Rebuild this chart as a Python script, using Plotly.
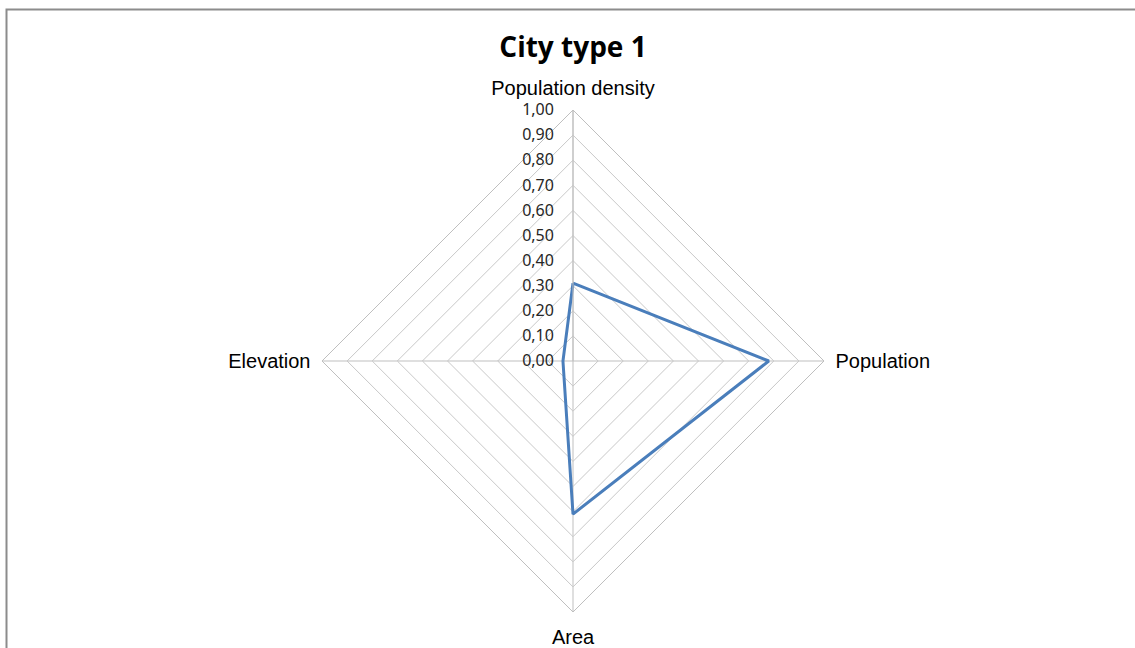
import plotly.graph_objects as go

categories = ["Population density", "Population", "Area", "Elevation"]
values = [0.31, 0.78, 0.61, 0.04]
tick_values = [0, 0.1, 0.2, 0.3, 0.4, 0.5, 0.6, 0.7, 0.8, 0.9, 1.0]

W, H = 1135, 648
cx, cy, R = 573, 361, 251

fig = go.Figure()
fig.add_trace(go.Scatterpolar(
    r=values + values[:1],
    theta=categories + categories[:1],
    mode="lines",
    line=dict(color="#4a7ebb", width=3),
    showlegend=False,
))

fig.update_layout(
    width=W, height=H,
    margin=dict(l=0, r=0, t=0, b=0),
    paper_bgcolor="white",
    separators=",.",
    title=dict(text="<b>City type 1</b>", x=cx / W, xanchor="center",
               y=1 - 47 / H, yanchor="middle",
               font=dict(family="Open Sans", size=28, color="#000000")),
    polar=dict(
        domain=dict(x=[(cx - R) / W, (cx + R) / W],
                    y=[(H - cy - R) / H, (H - cy + R) / H]),
        gridshape="linear",
        bgcolor="white",
        angularaxis=dict(
            direction="clockwise", rotation=90,
            showline=True, linecolor="#bfbfbf", linewidth=1,
            gridcolor="#bfbfbf", gridwidth=1,
            ticks="outside", ticklen=7, tickcolor="rgba(0,0,0,0)",
            tickfont=dict(family="Liberation Sans", size=20, color="#000000"),
        ),
        radialaxis=dict(
            range=[0, 1], tickvals=tick_values, tickformat=".2f",
            angle=90, side="counterclockwise",
            showline=True, linecolor="#bfbfbf", linewidth=1,
            gridcolor="#c8c8c8", gridwidth=1,
            ticks="outside", ticklen=13, tickcolor="rgba(0,0,0,0)",
            tickangle=90,
            tickfont=dict(family="Noto Sans", size=16, color="#262626"),
        ),
    ),
    shapes=[dict(type="rect", xref="paper", yref="paper",
                 x0=6.5 / W, x1=1.02, y0=-0.02, y1=1 - 9.5 / H,
                 line=dict(color="#8c8c8c", width=2), fillcolor="rgba(0,0,0,0)",
                 layer="below")],
)

fig.write_html("out.html")
